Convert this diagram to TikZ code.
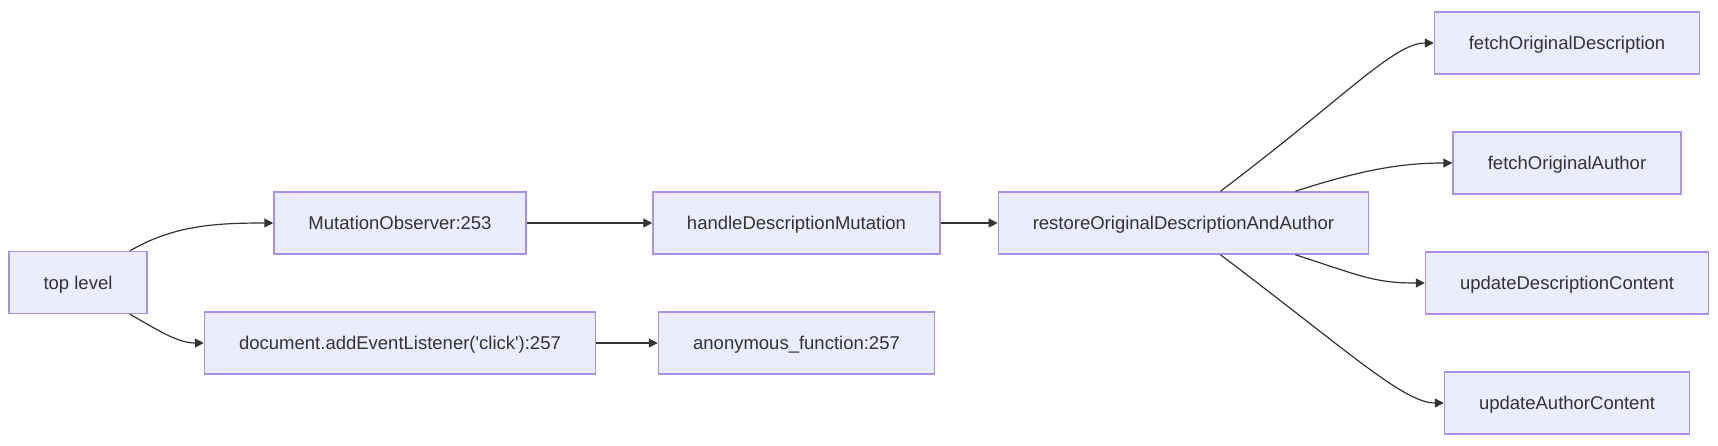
\documentclass[tikz,border=0pt]{standalone}
\usepackage{fontspec}
\setmainfont{Liberation Sans}
\usetikzlibrary{arrows.meta,calc}
\definecolor{nodefill}{HTML}{ECECFF}
\definecolor{nodeline}{HTML}{AC90E4}
\definecolor{inkgray}{HTML}{333333}

\begin{document}
\begin{tikzpicture}[
  x=1pt,y=-1pt,
  >={Triangle[length=9pt,width=9pt]},
  every node/.style={font=\fontsize{18.5}{22}\selectfont,text=inkgray},
  fn/.style={draw=nodeline,fill=nodefill,line width=1.5pt,minimum height=62pt,inner sep=0pt,text height=16pt,text depth=3pt},
  call/.style={->,draw=inkgray,line width=1.2pt}
]
  \useasboundingbox (0,0) rectangle (1718,445);

  \node[fn,minimum width=138pt] (top) at (78,282.5) {top level};
  \node[fn,minimum width=252pt] (mutobs) at (400,223) {MutationObserver:253};
  \node[fn,minimum width=391pt] (docclick) at (400,343) {document.addEventListener(\textquotesingle click\textquotesingle):257};
  \node[fn,minimum width=287pt] (handle) at (796.5,223) {handleDescriptionMutation};
  \node[fn,minimum width=276pt] (anon) at (796.5,343) {anonymous\_function:257};
  \node[fn,minimum width=370pt] (restore) at (1183.4,223) {restoreOriginalDescriptionAndAuthor};
  \node[fn,minimum width=265pt] (fetchdesc) at (1567,43) {fetchOriginalDescription};
  \node[fn,minimum width=228pt] (fetchauth) at (1567,163) {fetchOriginalAuthor};
  \node[fn,minimum width=283pt] (upddesc) at (1567,283) {updateDescriptionContent};
  \node[fn,minimum width=245pt] (updauth) at (1567,403) {updateAuthorContent};

  % top level calls
  \draw[call] ([xshift=52pt]top.north) .. controls +(30:50pt) and +(180:60pt) .. (mutobs.west);
  \draw[call] ([xshift=52pt]top.south) .. controls +(-30:35pt) and +(180:25pt) .. (docclick.west);

  % straight chains
  \draw[call] (mutobs) -- (handle);
  \draw[call] (handle) -- (restore);
  \draw[call] (docclick) -- (anon);

  % restore fans out
  \draw[call] ([xshift=37pt]restore.north) .. controls +(37:155pt) and +(180:40pt) .. (fetchdesc.west);
  \draw[call] ([xshift=112pt]restore.north) .. controls +(18:70pt) and +(180:50pt) .. (fetchauth.west);
  \draw[call] ([xshift=112pt]restore.south) .. controls +(-18:70pt) and +(180:50pt) .. (upddesc.west);
  \draw[call] ([xshift=37pt]restore.south) .. controls +(-37:160pt) and +(180:40pt) .. (updauth.west);
\end{tikzpicture}
\end{document}
